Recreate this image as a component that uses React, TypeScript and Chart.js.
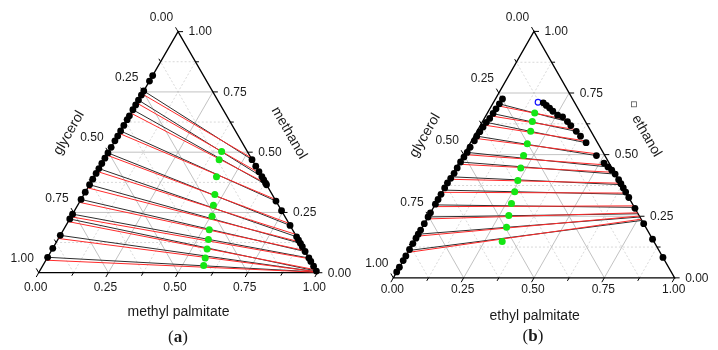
import React, { useEffect, useRef } from "react";
import { Chart, registerables } from "chart.js";

Chart.register(...registerables);

// Ticks shared by the three sides of each triangle
const MAJOR_TICKS = [0, 0.25, 0.5, 0.75, 1];
const MAJOR_TICK_LABELS = ["0.00", "0.25", "0.50", "0.75", "1.00"];
const MINOR_TICKS = [0.125, 0.375, 0.625, 0.875];

// Every composition is [ester, alcohol] (mass fraction); glycerol is the rest.

// ---- (a) glycerol + methanol + methyl palmitate ----
const A_GLYCEROL_PHASE = [
  [0, 0.818], [0, 0.795], [0, 0.754], [0, 0.737], [0, 0.716], [0, 0.696], [0, 0.676],
  [0, 0.651], [0, 0.635], [0, 0.611], [0, 0.588], [0, 0.567], [0, 0.547], [0, 0.52],
  [0, 0.497], [0, 0.475], [0, 0.453], [0, 0.432], [0, 0.412], [0, 0.388], [0, 0.365],
  [0, 0.334], [0, 0.304], [0, 0.243], [0, 0.223], [0, 0.155], [0, 0.101], [0, 0.064],
];
const A_ESTER_PHASE = [
  [0.531, 0.469], [0.558, 0.442], [0.581, 0.419], [0.602, 0.398], [0.615, 0.385],
  [0.628, 0.372], [0.635, 0.365], [0.703, 0.297], [0.743, 0.257], [0.804, 0.196],
  [0.851, 0.149], [0.865, 0.135], [0.878, 0.122], [0.892, 0.108], [0.912, 0.088],
  [0.939, 0.061], [0.953, 0.047], [0.973, 0.027], [0.993, 0.007],
];
// tie lines: [esterL, alcoholL, esterR, alcoholR]
const A_TIES_EXP = [
  [0, 0.754, 0.531, 0.469], [0, 0.716, 0.602, 0.398], [0, 0.676, 0.635, 0.365],
  [0, 0.588, 0.703, 0.297], [0, 0.497, 0.804, 0.196], [0, 0.432, 0.851, 0.149],
  [0, 0.365, 0.878, 0.122], [0, 0.304, 0.912, 0.088], [0, 0.243, 0.939, 0.061],
  [0, 0.223, 0.993, 0.007], [0, 0.155, 0.996, 0.004], [0, 0.064, 0.997, 0.003],
];
const A_TIES_CALC = [
  [0, 0.742, 0.522, 0.478], [0, 0.704, 0.588, 0.412], [0, 0.662, 0.628, 0.372],
  [0, 0.578, 0.695, 0.305], [0, 0.488, 0.795, 0.205], [0, 0.42, 0.84, 0.16],
  [0, 0.352, 0.872, 0.128], [0, 0.292, 0.908, 0.092], [0, 0.232, 0.942, 0.058],
  [0, 0.212, 0.988, 0.012], [0, 0.142, 0.996, 0.004], [0, 0.052, 0.998, 0.002],
];
const A_FEEDS = [
  [0.405, 0.503], [0.413, 0.469], [0.439, 0.398], [0.47, 0.324], [0.487, 0.28],
  [0.505, 0.234], [0.523, 0.178], [0.54, 0.138], [0.555, 0.0985], [0.567, 0.061],
  [0.577, 0.03],
];

// ---- (b) glycerol + ethanol + ethyl palmitate ----
const B_GLYCEROL_PHASE = [
  [0.025, 0.726], [0.024, 0.706], [0.022, 0.686], [0.021, 0.667], [0.019, 0.647],
  [0.015, 0.631], [0.013, 0.612], [0.011, 0.593], [0.009, 0.575], [0.01, 0.556],
  [0.008, 0.53], [0.008, 0.509], [0.006, 0.49], [0.004, 0.47], [0.004, 0.446],
  [0.004, 0.424], [0.002, 0.404], [0, 0.385], [0, 0.365], [0, 0.339], [0, 0.318],
  [0, 0.299], [0, 0.264], [0, 0.247], [0, 0.22], [0, 0.194], [0, 0.177], [0, 0.161],
  [0, 0.139], [0, 0.115], [0, 0.089], [0, 0.07], [0, 0.043], [0, 0.024],
];
const B_ESTER_PHASE = [
  [0.178, 0.71], [0.194, 0.6996], [0.211, 0.689], [0.229, 0.676], [0.254, 0.66],
  [0.275, 0.6535], [0.302, 0.634], [0.322, 0.618], [0.353, 0.5945], [0.378, 0.5748],
  [0.411, 0.5484], [0.474, 0.496], [0.516, 0.4657], [0.538, 0.45], [0.558, 0.437],
  [0.578, 0.421], [0.602, 0.398], [0.618, 0.382], [0.635, 0.365], [0.652, 0.348],
  [0.674, 0.326], [0.718, 0.282], [0.78, 0.22], [0.843, 0.157], [0.917, 0.083],
];
const B_PLAIT = [[0.158, 0.7126]];
const B_TIES_EXP = [
  [0.024, 0.706, 0.302, 0.634], [0.021, 0.6665, 0.3525, 0.5945], [0.015, 0.631, 0.4106, 0.5484],
  [0.009, 0.575, 0.474, 0.496], [0.008, 0.509, 0.538, 0.45], [0.004, 0.47, 0.578, 0.421],
  [0.002, 0.41, 0.622, 0.378], [0, 0.356, 0.661, 0.339], [0, 0.296, 0.714, 0.286],
  [0, 0.247, 0.74, 0.26], [0, 0.177, 0.753, 0.247], [0, 0.111, 0.767, 0.233],
];
const B_TIES_CALC = [
  [0.023, 0.698, 0.296, 0.642], [0.019, 0.657, 0.345, 0.602], [0.013, 0.62, 0.402, 0.556],
  [0.008, 0.566, 0.466, 0.504], [0.006, 0.5, 0.53, 0.458], [0.003, 0.461, 0.572, 0.428],
  [0, 0.4, 0.616, 0.384], [0, 0.347, 0.656, 0.344], [0, 0.289, 0.708, 0.292],
  [0, 0.239, 0.736, 0.264], [0, 0.169, 0.749, 0.251], [0, 0.103, 0.762, 0.238],
];
const B_FEEDS = [
  [0.168, 0.669], [0.177, 0.634], [0.191, 0.5945], [0.204, 0.5445], [0.215, 0.496],
  [0.23, 0.446], [0.245, 0.395], [0.257, 0.349], [0.269, 0.302], [0.284, 0.253],
  [0.3, 0.205], [0.313, 0.148],
];

const SANS = '"Liberation Sans", Arial, sans-serif';
const SERIF = '"Liberation Serif", "Times New Roman", serif';

// ternary [ester, alcohol] -> cartesian (x along the base, y = alcohol height)
const toXY = (c: number[]) => ({ x: c[0] + c[1] / 2, y: c[1] });

const framePlugin = {
  id: "ternaryFrame",
  beforeDatasetsDraw(chart: any, _args: any, o: any) {
    const { ctx } = chart;
    const sx = chart.scales.x;
    const sy = chart.scales.y;
    const P = (a: number, b: number) => [sx.getPixelForValue(a + b / 2), sy.getPixelForValue(b)];
    const line = (p: number[], q: number[]) => {
      ctx.beginPath();
      ctx.moveTo(p[0], p[1]);
      ctx.lineTo(q[0], q[1]);
      ctx.stroke();
    };
    ctx.save();

    const grid = (vals: number[]) => {
      vals.forEach((v) => {
        if (v <= 0 || v >= 1) return;
        line(P(0, v), P(1 - v, v)); // constant alcohol
        line(P(v, 0), P(v, 1 - v)); // constant ester
        line(P(1 - v, 0), P(0, 1 - v)); // constant glycerol
      });
    };
    ctx.lineWidth = 0.8;
    ctx.strokeStyle = "#cfcfcf";
    ctx.setLineDash([2, 2]);
    grid(MINOR_TICKS);
    ctx.setLineDash([]);
    ctx.strokeStyle = "#b2b2b2";
    grid(MAJOR_TICKS);

    const BL = P(0, 0);
    const BR = P(1, 0);
    const TOP = P(0, 1);
    const unit = (p: number[], q: number[]) => {
      const dx = q[0] - p[0];
      const dy = q[1] - p[1];
      const l = Math.hypot(dx, dy);
      return [dx / l, dy / l];
    };
    const dBottom = unit(TOP, BL);
    const dRight = [1, 0];
    const dLeft = unit(BR, TOP);

    // frame
    ctx.strokeStyle = "#000";
    ctx.lineWidth = 1.3;
    ctx.beginPath();
    ctx.moveTo(BL[0], BL[1]);
    ctx.lineTo(BR[0], BR[1]);
    ctx.lineTo(TOP[0], TOP[1]);
    ctx.closePath();
    ctx.stroke();

    // tick marks
    ctx.lineWidth = 1;
    const tick = (p: number[], d: number[], len: number) =>
      line(p, [p[0] + d[0] * len, p[1] + d[1] * len]);
    const drawTicks = (vals: number[], len: number) =>
      vals.forEach((v) => {
        tick(P(v, 0), dBottom, len);
        tick(P(1 - v, v), dRight, len);
        tick(P(0, 1 - v), dLeft, len);
      });
    drawTicks(MAJOR_TICKS, 5);
    drawTicks(MINOR_TICKS, 3.5);

    // tick labels
    ctx.fillStyle = "#1a1a1a";
    ctx.font = `12px ${SANS}`;
    ctx.textBaseline = "middle";
    MAJOR_TICKS.forEach((v, i) => {
      const t = MAJOR_TICK_LABELS[i];
      const pb = P(v, 0);
      ctx.textAlign = "center";
      ctx.fillText(t, pb[0] + o.bottomDx, pb[1] + o.bottomDy);
      const pl = P(0, 1 - v);
      ctx.fillText(t, pl[0] - 16.5, pl[1] - 14);
      const pr = P(1 - v, v);
      ctx.textAlign = "left";
      ctx.fillText(t, pr[0] + 10.5, pr[1] + 0.5);
    });

    // axis titles
    ctx.font = `14px ${SANS}`;
    ctx.textAlign = "center";
    ctx.fillText(o.esterTitle, o.esterPos[0], o.esterPos[1]);
    ctx.save();
    ctx.translate(o.glyPos[0], o.glyPos[1]);
    ctx.rotate(-Math.PI / 3);
    ctx.fillText("glycerol", 0, 0);
    ctx.restore();
    ctx.save();
    ctx.translate(o.alcPos[0], o.alcPos[1]);
    ctx.rotate(Math.PI / 3);
    ctx.fillText(o.alcTitle, 0, 0);
    ctx.restore();

    if (o.legendBox) {
      ctx.strokeStyle = "#555";
      ctx.lineWidth = 0.8;
      ctx.strokeRect(o.legendBox[0] - 2.5, o.legendBox[1] - 2.5, 5, 5);
    }

    // panel letter: "(", bold letter, ")"
    const fs = 17;
    ctx.font = `${fs}px ${SERIF}`;
    const wOpen = ctx.measureText("(").width;
    const wClose = ctx.measureText(")").width;
    ctx.font = `bold ${fs}px ${SERIF}`;
    const wMid = ctx.measureText(o.letter).width;
    let lx = o.letterPos[0] - (wOpen + wMid + wClose) / 2;
    const ly = o.letterPos[1];
    ctx.textAlign = "left";
    ctx.font = `${fs}px ${SERIF}`;
    ctx.fillText("(", lx, ly);
    lx += wOpen;
    ctx.font = `bold ${fs}px ${SERIF}`;
    ctx.fillText(o.letter, lx, ly);
    lx += wMid;
    ctx.font = `${fs}px ${SERIF}`;
    ctx.fillText(")", lx, ly);

    ctx.restore();
  },
};

type PanelSpec = {
  width: number;
  height: number;
  origin: number[]; // pixel of the glycerol vertex
  xUnit: number; // base length in px
  yUnit: number; // triangle height in px
  glycerolPhase: number[][];
  esterPhase: number[][];
  tiesExp: number[][];
  tiesCalc: number[][];
  feeds: number[][];
  plait?: number[][];
  frame: any;
};

function buildConfig(p: PanelSpec) {
  const datasets: any[] = [];
  const pointSet = (pts: number[][], color: string, r: number, order: number) => ({
    data: pts.map(toXY),
    showLine: false,
    pointRadius: r,
    pointBackgroundColor: color,
    backgroundColor: color,
    pointBorderWidth: 0,
    borderWidth: 0,
    order,
  });
  datasets.push(pointSet(p.glycerolPhase, "#000", 3.4, 0));
  datasets.push(pointSet(p.esterPhase, "#000", 3.4, 0));
  datasets.push(pointSet(p.feeds, "#14e614", 3.5, 0));
  if (p.plait) {
    datasets.push({
      data: p.plait.map(toXY),
      showLine: false,
      pointRadius: 2.8,
      pointBackgroundColor: "#fff",
      pointBorderColor: "#1010ff",
      pointBorderWidth: 1.2,
      order: 0,
    });
  }
  const tie = (t: number[], color: string, order: number) => ({
    data: [toXY([t[0], t[1]]), toXY([t[2], t[3]])],
    showLine: true,
    borderColor: color,
    borderWidth: 1,
    pointRadius: 0,
    order,
  });
  p.tiesCalc.forEach((t) => datasets.push(tie(t, "#ff2a2a", 1)));
  p.tiesExp.forEach((t) => datasets.push(tie(t, "#2e2e2e", 2)));

  return {
    type: "scatter",
    data: { datasets },
    options: {
      responsive: false,
      maintainAspectRatio: false,
      animation: false,
      events: [],
      layout: { padding: 0 },
      scales: {
        x: {
          type: "linear",
          display: false,
          min: -p.origin[0] / p.xUnit,
          max: (p.width - p.origin[0]) / p.xUnit,
        },
        y: {
          type: "linear",
          display: false,
          min: (p.origin[1] - p.height) / p.yUnit,
          max: p.origin[1] / p.yUnit,
        },
      },
      plugins: {
        legend: { display: false },
        tooltip: { enabled: false },
        ternaryFrame: p.frame,
      },
    },
    plugins: [framePlugin],
  };
}

const PANEL_A: PanelSpec = {
  width: 359,
  height: 350,
  origin: [35.5, 275],
  xUnit: 285,
  yUnit: 246.7,
  glycerolPhase: A_GLYCEROL_PHASE,
  esterPhase: A_ESTER_PHASE,
  tiesExp: A_TIES_EXP,
  tiesCalc: A_TIES_CALC,
  feeds: A_FEEDS,
  frame: {
    bottomDx: -3,
    bottomDy: 15,
    esterTitle: "methyl palmitate",
    esterPos: [178.5, 312],
    alcTitle: "methanol",
    alcPos: [289, 133],
    glyPos: [69, 133],
    letter: "a",
    letterPos: [178, 338],
  },
};

const PANEL_B: PanelSpec = {
  width: 359,
  height: 350,
  origin: [30, 281],
  xUnit: 289.7,
  yUnit: 254,
  glycerolPhase: B_GLYCEROL_PHASE,
  esterPhase: B_ESTER_PHASE,
  tiesExp: B_TIES_EXP,
  tiesCalc: B_TIES_CALC,
  feeds: B_FEEDS,
  plait: B_PLAIT,
  frame: {
    bottomDx: -1,
    bottomDy: 11.5,
    esterTitle: "ethyl palmitate",
    esterPos: [175.7, 316],
    alcTitle: "ethanol",
    alcPos: [287.5, 136],
    glyPos: [66, 135.5],
    legendBox: [275, 104.3],
    letter: "b",
    letterPos: [174, 337],
  },
};

function TernaryPanel({ spec, left }: { spec: PanelSpec; left: number }) {
  const ref = useRef<HTMLCanvasElement | null>(null);
  useEffect(() => {
    if (!ref.current) return;
    const chart = new Chart(ref.current, buildConfig(spec) as any);
    return () => chart.destroy();
  }, [spec]);
  return (
    <canvas
      ref={ref}
      width={spec.width}
      height={spec.height}
      style={{ position: "absolute", left, top: 0, width: spec.width, height: spec.height }}
    />
  );
}

export default function App() {
  return (
    <div
      style={{
        position: "fixed",
        left: 0,
        top: 0,
        width: 718,
        height: 350,
        background: "#fff",
        overflow: "hidden",
      }}
    >
      <TernaryPanel spec={PANEL_A} left={0} />
      <TernaryPanel spec={PANEL_B} left={359} />
    </div>
  );
}
